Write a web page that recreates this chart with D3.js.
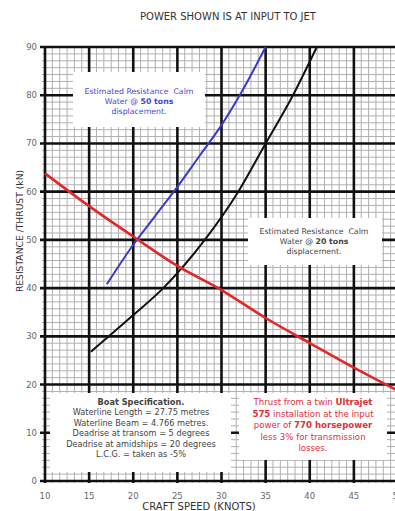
<!DOCTYPE html>
<html><head><meta charset="utf-8">
<script src="https://cdn.jsdelivr.net/npm/d3@7"></script>
<style>
html,body{margin:0;padding:0;background:#fff;overflow:hidden}
svg{display:block;font-family:"DejaVu Sans",Arial,sans-serif}
</style></head>
<body>
<svg id="c" width="395" height="511"></svg>
<script>
// ---- data ----
const xTicks = [10,15,20,25,30,35,40,45,50];
const yTicks = [0,10,20,30,40,50,60,70,80,90];
const thrustSpeed = [10,15,20,25,30,35,40,45,50];
const thrustKN    = [63.8,57.0,50.7,44.6,39.6,33.8,28.6,23.5,18.7];
const tons50Speed = [17,20,22.5,25,27.5,30,32.5,35];
const tons50KN    = [40.8,49.0,55.0,61.0,67.4,73.8,81.4,90];
const tons20Speed = [15.2,20,23.4,28.1,31.9,35,38.1,40.8];
const tons20KN    = [26.8,34.4,40,50,60,70,80,90];

const svg = d3.select("#c");
const x = d3.scaleLinear().domain([10,50]).range([45,398]);
const y = d3.scaleLinear().domain([0,90]).range([481,47]);

// minor grid
const g = svg.append("g");
const xMinor = d3.range(10, 50.001, 5/6);
const yMinor = d3.range(0, 90.001, 10/7);
g.selectAll(".vm").data(xMinor).join("line")
  .attr("x1",d=>x(d)).attr("x2",d=>x(d)).attr("y1",y(90)).attr("y2",y(0)+2)
  .attr("stroke","#b0b0b0").attr("stroke-width",1);
g.selectAll(".hm").data(yMinor).join("line")
  .attr("x1",x(10)-3).attr("x2",x(50)).attr("y1",d=>y(d)).attr("y2",d=>y(d))
  .attr("stroke","#b0b0b0").attr("stroke-width",1);
// major grid
g.selectAll(".vM").data(xTicks).join("line")
  .attr("x1",d=>x(d)).attr("x2",d=>x(d)).attr("y1",y(90)-1).attr("y2",y(0)+2)
  .attr("stroke","#111").attr("stroke-width",2.6);
g.selectAll(".hM").data(yTicks).join("line")
  .attr("x1",x(10)-5).attr("x2",x(50)).attr("y1",d=>y(d)).attr("y2",d=>y(d))
  .attr("stroke","#111").attr("stroke-width",2.6);

// white annotation boxes
const boxes = [[73,72,132,55],[248,218,134,47],[50,393,181,79],[239,393,148,67]];
svg.selectAll(".box").data(boxes).join("rect")
  .attr("x",d=>d[0]).attr("y",d=>d[1]).attr("width",d=>d[2]).attr("height",d=>d[3])
  .attr("fill","#fff");

// curves
const line = d3.line().x(d=>x(d[0])).y(d=>y(d[1])).curve(d3.curveMonotoneX);
svg.append("path").datum(d3.zip(tons20Speed,tons20KN)).attr("d",line)
  .attr("fill","none").attr("stroke","#111").attr("stroke-width",2);
svg.append("path").datum(d3.zip(tons50Speed,tons50KN)).attr("d",line)
  .attr("fill","none").attr("stroke","#3a3ac8").attr("stroke-width",2);
svg.append("path").datum(d3.zip(thrustSpeed,thrustKN)).attr("d",line)
  .attr("fill","none").attr("stroke","#e3262a").attr("stroke-width",2.6);

// tick labels
svg.selectAll(".xl").data(xTicks).join("text")
  .attr("x",d=>x(d)).attr("y",499).attr("text-anchor","middle")
  .attr("font-size",8.5).attr("fill","#666").text(d=>d);
svg.selectAll(".yl").data(yTicks).join("text")
  .attr("x",37).attr("y",d=>y(d)+3).attr("text-anchor","end")
  .attr("font-size",8.5).attr("fill","#666").text(d=>d);

// titles
svg.append("text").attr("x",228).attr("y",20).attr("text-anchor","middle")
  .attr("font-size",10).attr("fill","#333").text("POWER SHOWN IS AT INPUT TO JET");
svg.append("text").attr("x",199).attr("y",510).attr("text-anchor","middle")
  .attr("font-size",10).attr("fill","#333").text("CRAFT SPEED (KNOTS)");
svg.append("text").attr("transform","translate(23,231) rotate(-90)").attr("text-anchor","middle")
  .attr("font-size",9.2).attr("fill","#333").text("RESISTANCE /THRUST (kN)");

// annotation texts
function block(cx, y0, dy, lines, color, size){
  const t = svg.append("g").attr("font-size",size).attr("fill",color).attr("text-anchor","middle");
  lines.forEach((parts,i)=>{
    const tx = t.append("text").attr("x",cx).attr("y",y0+i*dy);
    parts.forEach(p=>{
      tx.append("tspan").attr("font-weight",p[1]?"bold":"normal").text(p[0]);
    });
  });
}
block(139, 94, 10, [
  [["Estimated Resistance\u00a0 Calm",0]],
  [["Water @ ",0],["50 tons",1]],
  [["displacement.",0]]
], "#4646d2", 7.8);
block(314, 234, 10, [
  [["Estimated Resistance\u00a0 Calm",0]],
  [["Water @ ",0],["20 tons",1]],
  [["displacement.",0]]
], "#444", 7.8);
block(141, 405, 10.4, [
  [["Boat Specification.",1]],
  [["Waterline Length = 27.75 metres",0]],
  [["Waterline Beam = 4.766 metres.",0]],
  [["Deadrise at transom = 5 degrees",0]],
  [["Deadrise at amidships = 20 degrees",0]],
  [["L.C.G. = taken as -5%",0]]
], "#444", 8.2);
block(313, 405, 11.5, [
  [["Thrust from a twin ",0],["Ultrajet",1]],
  [["575",1],[" installation at the input",0]],
  [["power of ",0],["770 horsepower",1]],
  [["less 3% for transmission",0]],
  [["losses.",0]]
], "#e0303a", 8.6);
</script>
</body></html>
